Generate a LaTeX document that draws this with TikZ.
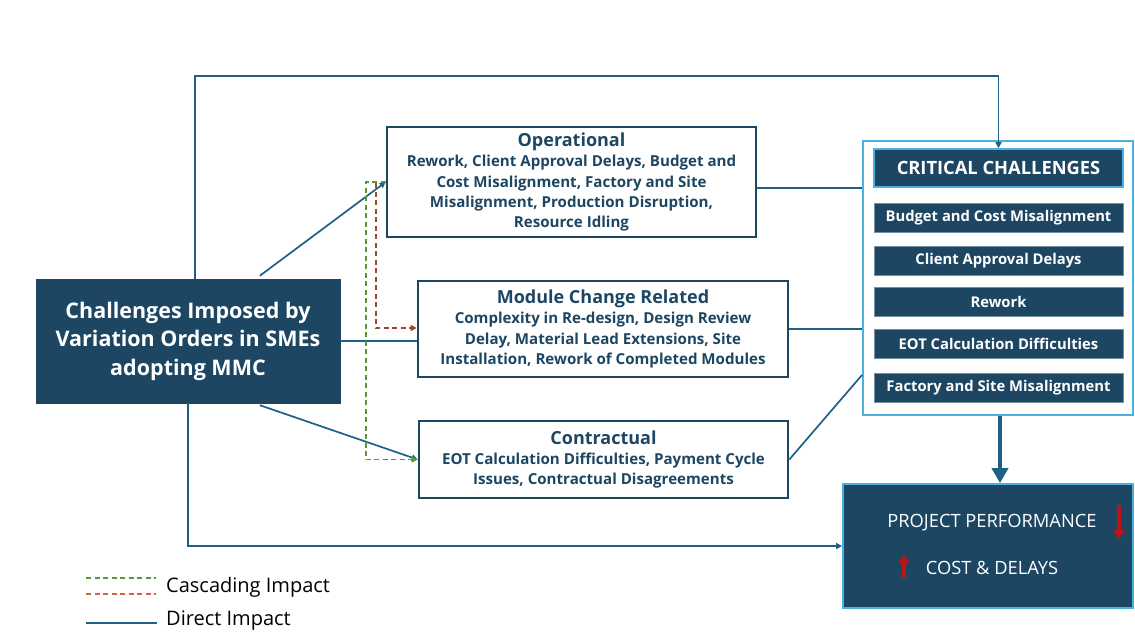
\documentclass[tikz,border=0pt]{standalone}
\usepackage{fontspec}
\setmainfont{Open Sans}
\usetikzlibrary{arrows.meta}
\definecolor{navy}{RGB}{29,70,98}
\definecolor{linkblue}{RGB}{31,96,135}
\definecolor{skyedge}{RGB}{77,176,226}
\definecolor{cascgreen}{RGB}{88,152,48}
\definecolor{cascbrown}{RGB}{160,72,40}
\definecolor{legorange}{RGB}{210,100,60}
\definecolor{alertred}{RGB}{192,20,20}
\tikzset{
  darkbox/.style={draw=navy, fill=navy, text=white, font=\bfseries, align=center, inner sep=0pt},
  groupbox/.style={draw=navy, line width=2.6pt, fill=white, text=navy, align=center, inner sep=0pt,
    font=\fontsize{15.1}{20.4}\selectfont\bfseries},
  itembox/.style={draw=navy!60!white, line width=0.6pt, fill=navy, text=white, inner sep=0pt,
    minimum width=249pt, minimum height=29pt, font=\fontsize{14.8}{17}\selectfont\bfseries},
  direct/.style={draw=linkblue, line width=1.7pt},
  tip/.style={-{Triangle[length=6pt,width=6pt]}},
  cascade/.style={line width=1.7pt, dash pattern=on 5pt off 3.5pt},
  legendtext/.style={anchor=west, text=black, font=\fontsize{20}{22}\selectfont, inner sep=0pt},
}
\begin{document}
\begin{tikzpicture}[x=1pt, y=-1pt]
\useasboundingbox (0,0) rectangle (1135,638);

% source box
\node[darkbox, minimum width=304pt, minimum height=124pt,
      font=\fontsize{21.5}{28.5}\selectfont\bfseries] (main) at (188,341)
  {Challenges Imposed by\\Variation Orders in SMEs\\adopting MMC};

% challenge groups
\node[groupbox, minimum width=369pt, minimum height=110pt] (op) at (571.5,182)
  {{\fontsize{18}{20.4}\selectfont Operational}\\
   Rework, Client Approval Delays, Budget and\\
   Cost Misalignment, Factory and Site\\
   Misalignment, Production Disruption,\\
   Resource Idling};
\node[groupbox, minimum width=370pt, minimum height=96pt] (mod) at (603,329)
  {{\fontsize{18}{20.4}\selectfont Module Change Related}\\
   Complexity in Re-design, Design Review\\
   Delay, Material Lead Extensions, Site\\
   Installation, Rework of Completed Modules};
\node[groupbox, minimum width=369pt, minimum height=77pt] (con) at (603.5,459.5)
  {{\fontsize{18}{20.4}\selectfont Contractual}\\
   EOT Calculation Difficulties, Payment Cycle\\
   Issues, Contractual Disagreements};

% critical challenges panel
\node[draw=skyedge, line width=1.8pt, fill=white, minimum width=270pt, minimum height=274pt,
      inner sep=0pt] (crit) at (998,278) {};
\node[draw=skyedge, line width=1.6pt, fill=navy, text=white, inner sep=0pt,
      minimum width=249pt, minimum height=38pt,
      font=\fontsize{18.3}{20}\selectfont\bfseries] (header) at (998.5,168) {CRITICAL CHALLENGES};
\node[itembox] (c1) at (998.5,217.5) {Budget and Cost Misalignment};
\node[itembox] (c2) at (998.5,260.5) {Client Approval Delays};
\node[itembox] (c3) at (998.5,302)   {Rework};
\node[itembox] (c4) at (998.5,344)   {EOT Calculation Difficulties};
\node[itembox] (c5) at (998.5,387.5) {Factory and Site Misalignment};

% outcome box
\node[draw=skyedge, line width=1.8pt, fill=navy, minimum width=290pt, minimum height=124pt,
      inner sep=0pt] (proj) at (988,546) {};
\node[text=white, font=\fontsize{18.3}{20}\selectfont, inner sep=0pt] (perf) at (992,523) {PROJECT PERFORMANCE};
\node[text=white, font=\fontsize{18.3}{20}\selectfont, inner sep=0pt] (cost) at (992,568) {COST \& DELAYS};
\coordinate (downA) at (1119,505);
\coordinate (downB) at (1119,539);
\coordinate (upA) at (904,578);
\coordinate (upB) at (904,555);
\draw[alertred, line width=4pt, -{Triangle[length=9pt,width=11pt]}] (downA) -- (downB);
\draw[alertred, line width=4pt, -{Triangle[length=8pt,width=11pt]}] (upA) -- (upB);

% direct impacts
\coordinate (rail) at (600,76);
\draw[direct, tip] ([xshift=159pt]main.north west) |- (rail) -| (header.north);
\draw[direct, tip] ([xshift=224pt,yshift=3pt]main.north west) -- (op.west);
\draw[direct] (main.east) -- (main.east -| mod.west);
\draw[direct, tip] ([xshift=224pt,yshift=-2pt]main.south west) -- (con.west);
\draw[direct, tip] (main.south) |- (proj.west);

% links into the critical panel
\draw[direct] ([yshift=-6pt]op.east) -- ([yshift=-6pt]op.east -| crit.west);
\draw[direct] (mod.east) -- (mod.east -| crit.west);
\draw[direct] (con.east) -- ([yshift=41pt]crit.south west);
\draw[draw=linkblue, line width=4pt, -{Triangle[length=15pt,width=16pt]}] (crit.south -| 1000,0) -- (proj.north -| 1000,0);

% cascading impacts
\draw[cascade, cascgreen, -{Triangle[length=6pt,width=6pt]}] (op.west) -- ++(-20,0) |- (con.west);
\draw[cascade, cascbrown, -{Triangle[length=6pt,width=6pt]}] ([xshift=-10pt,yshift=-1pt]op.west) |- ([yshift=1pt]mod.west);

% legend
\coordinate (lg1a) at (86,578);  \coordinate (lg1b) at (156,578);
\coordinate (lg2a) at (86,594);  \coordinate (lg2b) at (156,594);
\coordinate (lg3a) at (86,623);  \coordinate (lg3b) at (157,623);
\draw[cascade, cascgreen, line width=1.5pt] (lg1a) -- (lg1b);
\draw[cascade, legorange, line width=1.5pt] (lg2a) -- (lg2b);
\draw[direct, line width=1.5pt] (lg3a) -- (lg3b);
\node[legendtext] (lgcasc) at (166,587) {Cascading Impact};
\node[legendtext] (lgdir) at (166,621) {Direct Impact};
\end{tikzpicture}
\end{document}
